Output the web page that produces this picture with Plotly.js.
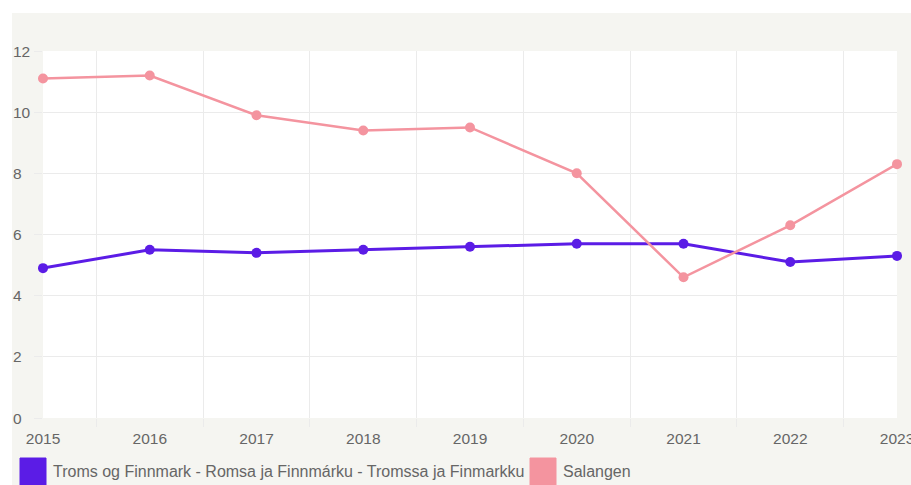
<!DOCTYPE html>
<html>
<head>
<meta charset="utf-8">
<script src="https://cdn.plot.ly/plotly-3.0.1.min.js"></script>
<style>
html,body{margin:0;padding:0;background:#ffffff;overflow:hidden;}
#chart{position:absolute;left:12px;top:13px;width:899px;height:472px;}
</style>
</head>
<body>
<div id="chart"></div>
<script>
const years = [2015, 2016, 2017, 2018, 2019, 2020, 2021, 2022, 2023];
const yearLabels = ["2015", "2016", "2017", "2018", "2019", "2020", "2021", "2022", "2023"];
const seriesNames = ["Troms og Finnmark - Romsa ja Finnmárku - Tromssa ja Finmarkku", "Salangen"];
const tromsValues = [4.9, 5.5, 5.4, 5.5, 5.6, 5.7, 5.7, 5.1, 5.3];
const salangenValues = [11.1, 11.2, 9.9, 9.4, 9.5, 8.0, 4.6, 6.3, 8.3];
const yTicks = [0, 2, 4, 6, 8, 10, 12];
const colors = ["#5b1ce6", "#f4949f"];

const midYears = years.slice(0, -1).map((y, i) => (y + years[i + 1]) / 2);
const font = "Liberation Sans, Arial, Helvetica, sans-serif";
const gridC = "#ebebeb";
const textC = "#666666";

const traces = [
  {x: years, y: tromsValues, name: seriesNames[0], type: "scatter", mode: "lines+markers",
   line: {color: colors[0], width: 3}, marker: {color: colors[0], size: 10}, cliponaxis: false},
  {x: years, y: salangenValues, name: seriesNames[1], type: "scatter", mode: "lines+markers",
   line: {color: colors[1], width: 2.5}, marker: {color: colors[1], size: 10}, cliponaxis: false}
];

const annotations = yTicks.map(v => ({
  x: 0, xref: "paper", y: v, yref: "y", xanchor: "left", yanchor: "middle", xshift: -32,
  text: String(v), showarrow: false, font: {family: font, size: 15.5, color: textC}
}));

// legend (custom square swatches)
const legendX = [-23, 487];
const shapes = [];
seriesNames.forEach((n, i) => {
  shapes.push({type: "rect", xref: "paper", yref: "paper", xsizemode: "pixel", ysizemode: "pixel",
    xanchor: 0, yanchor: 0, x0: legendX[i], x1: legendX[i] + 26, y0: -67, y1: -40,
    fillcolor: colors[i], line: {color: colors[i], width: 1}});
  annotations.push({x: 0, xref: "paper", y: 0, yref: "paper", xanchor: "left", yanchor: "middle",
    xshift: legendX[i] + 31, yshift: -53, text: n, showarrow: false,
    font: {family: font, size: 16, color: textC}});
});

const layout = {
  width: 899, height: 472,
  margin: {l: 31, r: 14, t: 38, b: 67},
  paper_bgcolor: "#f5f5f1",
  plot_bgcolor: "#ffffff",
  showlegend: false,
  font: {family: font, size: 15.5, color: textC},
  xaxis: {
    type: "linear", range: [2015, 2023], tickmode: "array", tickvals: years, ticktext: yearLabels,
    showgrid: false, zeroline: false, showline: false, ticks: "", ticklabelstandoff: 9,
    ticklabeloverflow: "allow",
    tickfont: {family: font, size: 15.5, color: textC},
    minor: {tickmode: "array", tickvals: midYears, showgrid: true, gridcolor: gridC, gridwidth: 1,
            ticks: "outside", ticklen: 8, tickcolor: gridC, tickwidth: 1}
  },
  yaxis: {
    range: [0, 12], tickmode: "array", tickvals: yTicks, showticklabels: false,
    showgrid: true, gridcolor: gridC, gridwidth: 1, zeroline: false, showline: false,
    ticks: "outside", ticklen: 8, tickcolor: gridC, tickwidth: 1
  },
  annotations: annotations,
  shapes: shapes
};

Plotly.newPlot("chart", traces, layout, {displayModeBar: false, staticPlot: true});
</script>
</body>
</html>
